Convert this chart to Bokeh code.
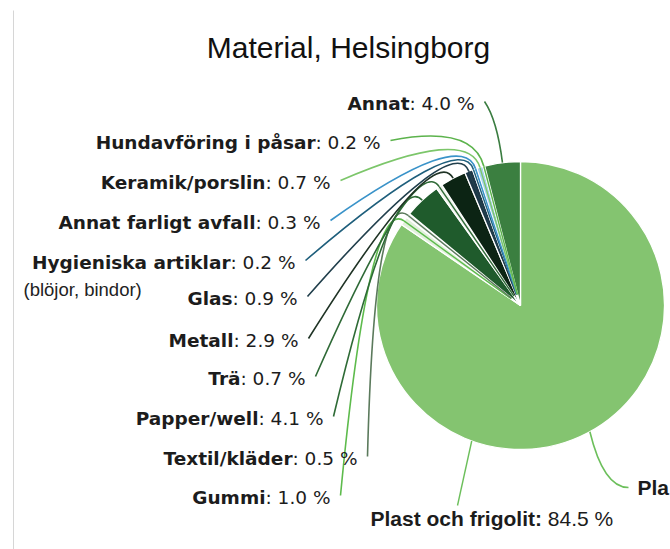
import math
from bokeh.plotting import figure
from bokeh.models import Range1d, ColumnDataSource
from bokeh.core.properties import value
from bokeh.embed import file_html
from bokeh.resources import INLINE

# ---------------- data ----------------
names = ["Plast och frigolit", "Gummi", "Textil/kläder", "Papper/well", "Trä",
         "Metall", "Glas", "Hygieniska artiklar", "Annat farligt avfall",
         "Keramik/porslin", "Hundavföring i påsar", "Annat"]
shares = [84.5, 1.0, 0.5, 4.1, 0.7, 2.9, 0.9, 0.2, 0.3, 0.7, 0.2, 4.0]
title_text = "Material, Helsingborg"
sub_note = "(blöjor, bindor)"

# ---------------- styles / layout ----------------
wedge_colors = ["#84c470", "#e2f1dc", "#eef2ee", "#1f5b2c", "#eef3ec", "#0c2414",
                "#1d3747", "#2b6d8f", "#4a9bd0", "#a8d3ef", "#c9e8bd", "#3b7f40"]
line_colors = ["#6cbf5b", "#5dbb4c", "#5b7a5c", "#2e6b36", "#2f6a37", "#1f3325",
               "#213f4c", "#1f5f7c", "#3a93c9", "#7cc66a", "#5cb34c", "#3b7d41"]
# label right-end x and centre y (page pixels) for slices 1..11
lab_x = [None, 330, 357, 323, 305, 298, 297, 295, 320, 330, 380, 474]
lab_y = [None, 497, 458, 418, 378, 340, 298, 262, 222, 182, 142, 103]

PW, PH = 670, 549
def fy(Y):  # page y (down) -> data y (up)
    return PH - Y

CX, CY, R = 520, fy(305), 144
LABEL_FONT = "DejaVu Sans"
LABEL_SIZE = 18.5
VAL_W = 3.513 * LABEL_SIZE  # width of ": 0.0 %" in DejaVu Sans regular

p = figure(width=PW, height=PH, x_range=Range1d(0, PW), y_range=Range1d(0, PH),
           output_backend="svg", toolbar_location=None, min_border=0)
p.xaxis.visible = False
p.yaxis.visible = False
p.grid.visible = False
p.outline_line_color = None
p.background_fill_color = "white"
p.border_fill_color = "white"

# faint vertical rule at left
p.segment(x0=[13], y0=[fy(10)], x1=[13], y1=[fy(549)], line_color="#d6d6d6", line_width=1)

# ---------------- wedges ----------------
total = sum(shares)
cum = [0.0]
for s in shares:
    cum.append(cum[-1] + s / total)
start = [math.pi / 2 - 2 * math.pi * cum[i] for i in range(len(shares))]
end = [math.pi / 2 - 2 * math.pi * cum[i + 1] for i in range(len(shares))]
mid = [(cum[i] + cum[i + 1]) / 2 for i in range(len(shares))]

src = ColumnDataSource(dict(start=start, end=end, color=wedge_colors))
p.wedge(x=CX, y=CY, radius=R, start_angle="start", end_angle="end", direction="clock",
        fill_color="color", line_color="white", line_width=1.3, source=src)

def on_dir(frac, rr):
    a = 2 * math.pi * frac
    return CX + rr * math.sin(a), CY + rr * math.cos(a)

# ---------------- leader lines ----------------
qx0, qy0, qx1, qy1, qcx, qcy, qc = [], [], [], [], [], [], []
sx0, sy0, sx1, sy1, sc = [], [], [], [], []
for i in range(1, len(shares)):
    ax, ay = lab_x[i] + 10, fy(lab_y[i] - 2)
    ex, ey = on_dir(mid[i], R * 1.0)
    cx_, cy_ = on_dir(mid[i], R * 1.3)
    qx0.append(ax); qy0.append(ay); qx1.append(ex); qy1.append(ey)
    qcx.append(cx_); qcy.append(cy_); qc.append(line_colors[i])
    if shares[i] < 2:
        ix, iy = on_dir(mid[i], R * 0.08)
        sx0.append(ex); sy0.append(ey); sx1.append(ix); sy1.append(iy); sc.append(line_colors[i])

# Plast leaders
px0, py0 = on_dir(0.555, R)
sx0.append(px0); sy0.append(py0); sx1.append(457); sy1.append(fy(505)); sc.append(line_colors[0])
rx0, ry0 = on_dir(0.42, R)
qx0.append(rx0); qy0.append(ry0); qx1.append(628); qy1.append(fy(487))
qcx.append(603); qcy.append(fy(487)); qc.append(line_colors[0])

p.quadratic(x0=qx0, y0=qy0, x1=qx1, y1=qy1, cx=qcx, cy=qcy, line_color=qc, line_width=1.6)
p.segment(x0=sx0, y0=sy0, x1=sx1, y1=sy1, line_color=sc, line_width=1.4)

# ---------------- labels ----------------
nx, ny, nt, vx, vt = [], [], [], [], []
for i in range(1, len(shares)):
    vt.append(f": {shares[i]:.1f} %")
    vx.append(lab_x[i])
    nx.append(lab_x[i] - VAL_W)
    ny.append(fy(lab_y[i]))
    nt.append(names[i])

p.text(x=nx, y=ny, text=nt, text_font=value(LABEL_FONT), text_font_style="bold",
       text_font_size=f"{LABEL_SIZE}px", text_align="right", text_baseline="middle",
       text_color="#1c1c1c")
p.text(x=vx, y=ny, text=vt, text_font=value(LABEL_FONT), text_font_style="normal",
       text_font_size=f"{LABEL_SIZE}px", text_align="right", text_baseline="middle",
       text_color="#1c1c1c")

# sub note under Hygieniska artiklar
p.text(x=[23], y=[fy(289)], text=[sub_note], text_font=value("Liberation Sans"),
       text_font_size="18.5px", text_align="left", text_baseline="middle", text_color="#222222")

# Plast label (bold name + regular value)
PL_SIZE = 21
bold_w = 8.168 * PL_SIZE + 0.278 * PL_SIZE
p.text(x=[370], y=[fy(518)], text=[names[0] + ":"], text_font=value("Liberation Sans"),
       text_font_style="bold", text_font_size=f"{PL_SIZE}px", text_align="left",
       text_baseline="middle", text_color="#1c1c1c")
p.text(x=[370 + bold_w], y=[fy(518)], text=[f"{shares[0]:.1f} %"],
       text_font=value("Liberation Sans"), text_font_style="normal",
       text_font_size=f"{PL_SIZE}px", text_align="left", text_baseline="middle",
       text_color="#1c1c1c")
# second (edge) copy of the Plast label, only its start is visible in the reference
p.text(x=[637], y=[fy(487)], text=[names[0][:3]], text_font=value("Liberation Sans"),
       text_font_style="bold", text_font_size=f"{PL_SIZE}px", text_align="left",
       text_baseline="middle", text_color="#1c1c1c")

# title
p.text(x=[348], y=[fy(47)], text=[title_text], text_font=value("Liberation Sans"),
       text_font_size="30px", text_align="center", text_baseline="middle", text_color="#111111")

open("out.html", "w").write(file_html(p, INLINE))
